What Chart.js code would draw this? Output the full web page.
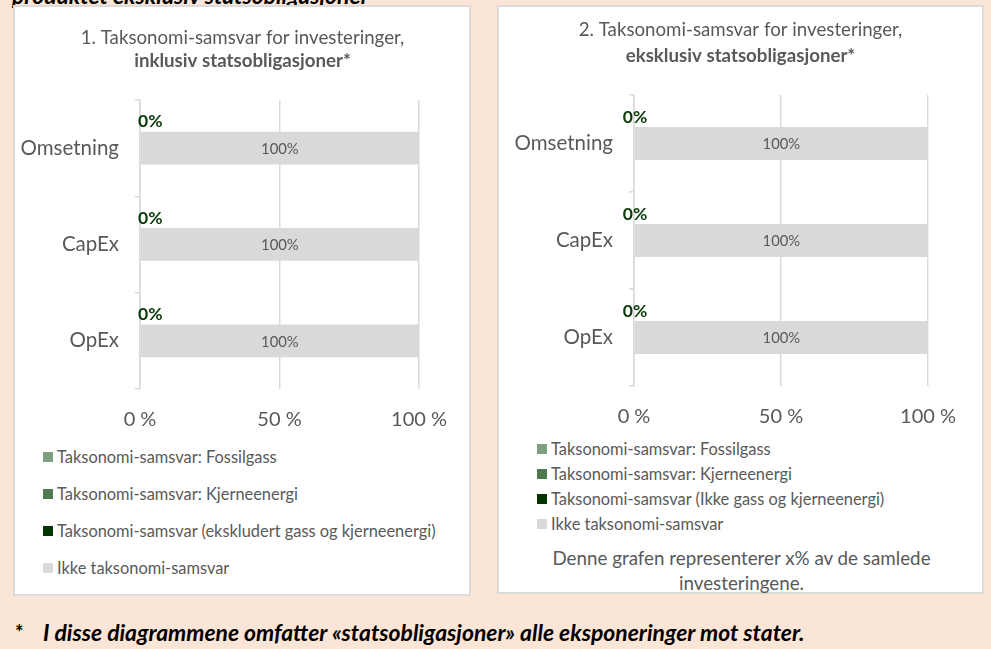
<!DOCTYPE html>
<html><head><meta charset="utf-8">
<script src="https://cdn.jsdelivr.net/npm/chart.js@4"></script>
<style>
html,body{margin:0;padding:0}
body{background:#FBE5D6;width:991px;height:649px;overflow:hidden;position:relative;font-family:Lato,"Open Sans",sans-serif;color:#595959}
.panel{position:absolute;background:#fff;border:2px solid #DCDCDC;box-sizing:border-box}
.cv{position:absolute}
.legend{position:absolute;font-size:16.4px;color:#595959}
.legend .item{position:relative;white-space:nowrap}
.legend .box{position:absolute;left:0;width:10px;height:10px}
.legend .txt{position:absolute;left:14px}
.top{position:absolute;left:12px;top:-18px;line-height:27px;font-weight:bold;font-style:italic;font-size:22.9px;color:#000;white-space:nowrap}
.foot{position:absolute;top:619px;line-height:27px;font-weight:bold;font-size:22.9px;color:#000;white-space:nowrap}
.note{position:absolute;left:499px;width:485px;top:545px;text-align:center;font-size:18.8px;line-height:25px;color:#595959}
</style></head>
<body>
<div class="top">produktet eksklusiv statsobligasjoner</div>
<div class="panel" style="left:13px;top:5px;width:458px;height:591px"></div>
<div class="panel" style="left:497px;top:5px;width:487px;height:589px"></div>
<canvas id="c1" class="cv" style="left:15px;top:6px" width="455" height="430"></canvas>
<canvas id="c2" class="cv" style="left:499px;top:6px" width="483" height="430"></canvas>
<div id="lg1" class="legend" style="left:43px;top:438px"></div>
<div id="lg2" class="legend" style="left:537px;top:436px"></div>
<div class="note">Denne grafen representerer x% av de samlede<br>investeringene.</div>
<div class="foot" style="left:15px;font-size:20px">*</div>
<div class="foot" style="left:43px;font-style:italic">I disse diagrammene omfatter «statsobligasjoner» alle eksponeringer mot stater.</div>
<script>
// ---- data ----
const categories = ['Omsetning', 'CapEx', 'OpEx'];
const xTickValues = [0, 50, 100];

const title1 = ['1. Taksonomi-samsvar for investeringer,', 'inklusiv statsobligasjoner*'];
const title2 = ['2. Taksonomi-samsvar for investeringer,', 'eksklusiv statsobligasjoner*'];

const seriesNames1 = ['Taksonomi-samsvar: Fossilgass', 'Taksonomi-samsvar: Kjerneenergi', 'Taksonomi-samsvar (ekskludert gass og kjerneenergi)', 'Ikke taksonomi-samsvar'];
const seriesNames2 = ['Taksonomi-samsvar: Fossilgass', 'Taksonomi-samsvar: Kjerneenergi', 'Taksonomi-samsvar (Ikke gass og kjerneenergi)', 'Ikke taksonomi-samsvar'];

const fossilgass1 = [0, 0, 0];
const kjerneenergi1 = [0, 0, 0];
const taksonomi1 = [0, 0, 0];
const ikkeTaksonomi1 = [100, 100, 100];

const fossilgass2 = [0, 0, 0];
const kjerneenergi2 = [0, 0, 0];
const taksonomi2 = [0, 0, 0];
const ikkeTaksonomi2 = [100, 100, 100];

const seriesColors = ['#7F9F7F', '#4F7A4F', '#003300', '#D9D9D9'];

// ---- plugin for data labels ----
const barLabels = {
  id: 'barLabels',
  afterDatasetsDraw(chart, args, opts) {
    const ctx = chart.ctx;
    chart.data.datasets.forEach((ds, i) => {
      const meta = chart.getDatasetMeta(i);
      if (i === opts.aboveIndex) {
        meta.data.forEach((el, j) => {
          ctx.save();
          ctx.font = 'bold 17.5px Lato';
          ctx.fillStyle = '#0B3B0B';
          ctx.textAlign = opts.align;
          ctx.textBaseline = 'middle';
          ctx.fillText(ds.data[j] + '%', el.base + opts.dx, el.y - el.height / 2 - opts.dy);
          ctx.restore();
        });
      } else if (i === opts.insideIndex) {
        meta.data.forEach((el, j) => {
          ctx.save();
          ctx.font = '14.8px Lato';
          ctx.fillStyle = '#595959';
          ctx.textAlign = 'center';
          ctx.textBaseline = 'middle';
          ctx.fillText(ds.data[j] + '%', (el.x + el.base) / 2, el.y + 1);
          ctx.restore();
        });
      }
    });
  }
};

function makeChart(id, names, values, titles, geo) {
  const datasets = names.map((n, i) => ({
    label: n,
    data: values[i],
    backgroundColor: seriesColors[i],
    borderWidth: 0,
    categoryPercentage: 1,
    barPercentage: 0.34,
    yAxisID: 'y'
  }));
  return new Chart(document.getElementById(id), {
    type: 'bar',
    data: { labels: categories, datasets },
    plugins: [barLabels],
    options: {
      indexAxis: 'y',
      responsive: false,
      animation: false,
      layout: { padding: 0 },
      plugins: {
        legend: { display: false },
        tooltip: { enabled: false },
        title: {
          display: true, text: titles[0], color: '#595959',
          font: { family: 'Lato', size: 18.7, weight: 'normal', lineHeight: 1.2 },
          padding: { top: geo.t1, bottom: 0 }
        },
        subtitle: {
          display: true, text: titles[1], color: '#595959',
          font: { family: 'Lato', size: 18.7, weight: 'bold', lineHeight: 1.2 },
          padding: { top: geo.t2, bottom: geo.t3 }
        },
        barLabels: { aboveIndex: 2, insideIndex: 3, align: geo.align, dx: geo.dx, dy: 10 }
      },
      scales: {
        x: {
          stacked: true, min: 0, max: 100,
          afterBuildTicks(s) { s.ticks = xTickValues.map(v => ({ value: v })); },
          ticks: { callback: v => v + ' %', color: '#595959', font: { family: 'Lato', size: 20 }, padding: geo.xPad, maxRotation: 0 },
          grid: { color: '#D9D9D9', lineWidth: 1.5, drawTicks: false },
          border: { display: false },
          afterFit(s) { s.height = geo.xH; }
        },
        y: {
          stacked: true,
          ticks: { color: '#595959', font: { family: 'Lato', size: 20.5 }, padding: 16 },
          grid: { drawOnChartArea: false, drawTicks: true, tickLength: 5, color: '#D9D9D9', lineWidth: 1.5 },
          border: { display: true, color: '#D9D9D9', width: 1.5 },
          afterFit(s) { s.width = geo.yW; }
        },
        yRight: {
          type: 'category', position: 'right', display: true,
          ticks: { display: false },
          grid: { display: false },
          border: { display: false },
          afterFit(s) { s.width = geo.padRight; }
        }
      }
    }
  });
}

function makeLegend(id, names, rowH) {
  const el = document.getElementById(id);
  names.forEach((n, i) => {
    const item = document.createElement('div');
    item.className = 'item';
    item.style.height = rowH + 'px';
    const b = document.createElement('span');
    b.className = 'box';
    b.style.background = seriesColors[i];
    b.style.top = (rowH / 2 - 5) + 'px';
    const t = document.createElement('span');
    t.className = 'txt';
    t.textContent = n;
    t.style.lineHeight = rowH + 'px';
    item.appendChild(b); item.appendChild(t);
    el.appendChild(item);
  });
}

makeChart('c1', seriesNames1, [fossilgass1, kjerneenergi1, taksonomi1, ikkeTaksonomi1], title1,
  { padRight: 51, t1: 20.8, t2: 0.5, t3: 27.8, yW: 125, xH: 47, xPad: 18.5, align: 'left', dx: -2 });
makeChart('c2', seriesNames2, [fossilgass2, kjerneenergi2, taksonomi2, ikkeTaksonomi2], title2,
  { padRight: 54, t1: 12.8, t2: 3.5, t3: 27.8, yW: 135, xH: 50, xPad: 18.5, align: 'center', dx: 1 });

makeLegend('lg1', seriesNames1, 37);
makeLegend('lg2', seriesNames2, 25);
</script>
</body></html>
